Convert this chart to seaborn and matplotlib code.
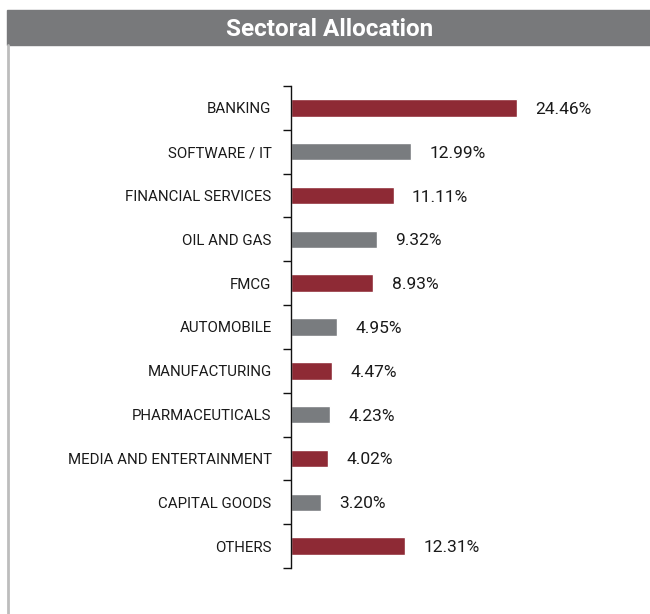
"""Sectoral allocation horizontal bar chart."""

import matplotlib

matplotlib.use("Agg")
import matplotlib.pyplot as plt
import pandas as pd
import seaborn as sns
from matplotlib.patches import Rectangle
from matplotlib.lines import Line2D
from matplotlib.ticker import FixedLocator

SECTORS = [
    "BANKING",
    "SOFTWARE / IT",
    "FINANCIAL SERVICES",
    "OIL AND GAS",
    "FMCG",
    "AUTOMOBILE",
    "MANUFACTURING",
    "PHARMACEUTICALS",
    "MEDIA AND ENTERTAINMENT",
    "CAPITAL GOODS",
    "OTHERS",
]
WEIGHTS = [24.46, 12.99, 11.11, 9.32, 8.93, 4.95, 4.47, 4.23, 4.02, 3.20, 12.31]

RED = "#8e2a35"
GREY = "#797c7f"
HEADER = "#78797b"
FONT = ["Roboto", "DejaVu Sans"]


def main() -> None:
    sns.set_theme(style="white")
    plt.rcParams["font.family"] = FONT

    df = pd.DataFrame({"sector": SECTORS, "weight": WEIGHTS})
    palette = {s: (RED if i % 2 == 0 else GREY) for i, s in enumerate(SECTORS)}

    fig = plt.figure(figsize=(6.5, 6.14), dpi=100)
    ax = fig.add_axes([291 / 650, 1 - 568 / 614, 277 / 650, (568 - 86) / 614])

    sns.barplot(
        data=df,
        x="weight",
        y="sector",
        hue="sector",
        palette=palette,
        order=SECTORS,
        width=0.4,
        saturation=1,
        legend=False,
        ax=ax,
    )

    for i, value in enumerate(WEIGHTS):
        ax.text(value + 2.0, i, f"{value:.2f}%", va="center_baseline", ha="left",
                fontsize=12.5, color="#1a1a1a")

    ax.set_xlim(0, 30)
    ax.set_ylim(len(SECTORS) - 0.5, -0.5)
    ax.set_xlabel("")
    ax.set_ylabel("")
    ax.set_xticks([])
    for side in ("top", "right", "bottom"):
        ax.spines[side].set_visible(False)
    ax.spines["left"].set_color("#111111")
    ax.spines["left"].set_linewidth(1.0)

    ax.yaxis.set_minor_locator(FixedLocator([i - 0.5 for i in range(len(SECTORS) + 1)]))
    ax.tick_params(axis="y", which="major", length=0, pad=14, labelsize=10.8,
                   labelcolor="#1a1a1a")
    ax.tick_params(axis="y", which="minor", length=6, width=1.0, color="#111111",
                   left=True)

    # header band and frame
    fig.patches.append(Rectangle((7 / 650, 1 - 45 / 614), 1 - 7 / 650, 35 / 614,
                                 transform=fig.transFigure, color=HEADER, zorder=0))
    fig.lines.append(Line2D([8 / 650, 8 / 650], [0, 1 - 45 / 614],
                            transform=fig.transFigure, color="#bdbdbd", linewidth=2))
    fig.text(330 / 650, 1 - 29 / 614, "Sectoral Allocation", ha="center", va="center",
             color="white", fontsize=17.5, fontweight="bold")

    fig.savefig("out.png", dpi=100)
    plt.close(fig)


if __name__ == "__main__":
    main()
